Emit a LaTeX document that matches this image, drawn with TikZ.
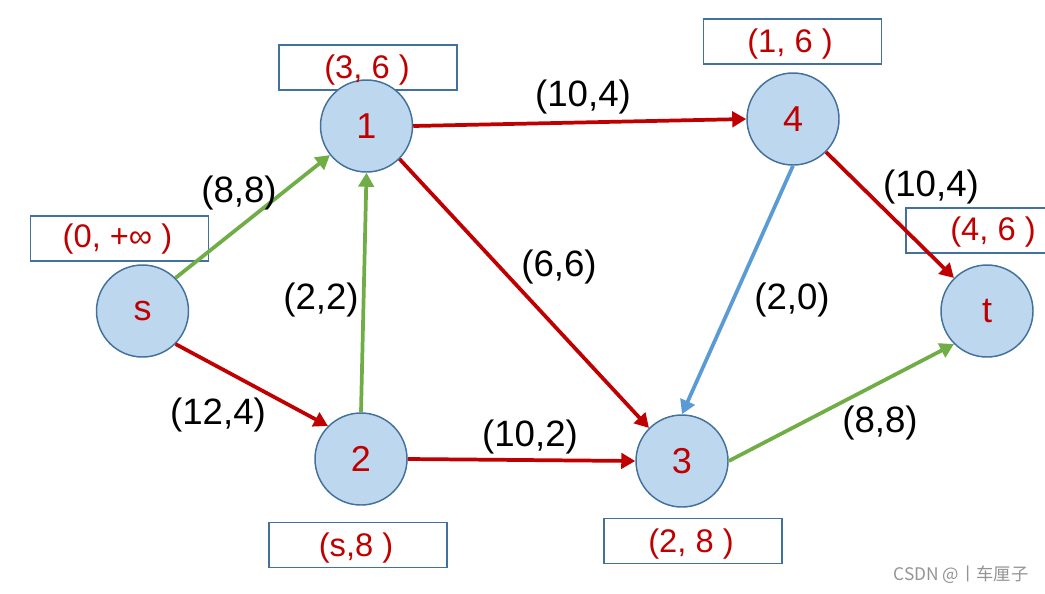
\documentclass[tikz,border=0pt]{standalone}
\usepackage{fontspec}
\setmainfont{Liberation Sans}
\newfontfamily\cjk{Noto Sans CJK SC}
\usetikzlibrary{arrows.meta}
\definecolor{nred}{HTML}{C00000}
\definecolor{ngreen}{HTML}{70AD47}
\definecolor{nblue}{HTML}{5B9BD5}
\definecolor{nfill}{HTML}{BDD7EE}
\definecolor{nborder}{HTML}{41719C}
\tikzset{
  vert/.style={circle, draw=nborder, fill=nfill, line width=1.1pt, minimum size=69pt, inner sep=0pt,
    text=nred, font=\fontsize{27}{32}\selectfont},
  lbox/.style={draw=nborder, line width=1.3pt, minimum width=133.5pt, minimum height=33.75pt, inner sep=0pt},
  ltext/.style={text=nred, font=\fontsize{24.5}{28}\selectfont, inner sep=0pt},
  elab/.style={text=black, font=\fontsize{27.5}{32}\selectfont, inner sep=0pt},
  edge/.style={line width=2.8pt, -{Triangle[length=10.5pt, width=11.5pt]}},
}
\begin{document}
\begin{tikzpicture}[x=0.75pt, y=-0.75pt]
\useasboundingbox (0,0) rectangle (1045,593);
\clip (0,0) rectangle (1045,593);
% label boxes (frames)
\node[lbox] (bs) at (119.5,238.5) {};
\node[lbox] (b1) at (368,67.5) {};
\node[lbox] (b4) at (792.5,41.5) {};
\node[lbox] (bt) at (995,230.5) {};
\node[lbox] (b2) at (358,545) {};
\node[lbox] (b3) at (693,541) {};
% vertices
\node[vert] (s) at (142.5,311) {s};
\node[vert] (n1) at (366.5,126) {1};
\node[vert] (n4) at (793,119) {4};
\node[vert] (t) at (987,311) {t};
\node[vert] (n2) at (361,459) {2};
\node[vert] (n3) at (682,461) {3};
% box texts
\node[ltext] at (117.5,239) {(0, +∞ )};
\node[ltext] at (367,70) {(3, 6 )};
\node[ltext] at (790,44) {(1, 6 )};
\node[ltext] at (993,232) {(4, 6 )};
\node[ltext] at (356,548) {(s,8 )};
\node[ltext] at (691,544) {(2, 8 )};
% edges
\draw[edge, ngreen] (s.north east) -- (n1);
\draw[edge, nred] (s.south east) -- (n2.north west);
\draw[edge, ngreen] (n2.north) -- (n1.south);
\draw[edge, nred] (n1.east) -- (n4.west);
\draw[edge, nred] (n1.south east) -- (n3.north west);
\draw[edge, nred] (n2.east) -- (n3.west);
\draw[edge, nblue] (n4.south) -- (n3.north);
\draw[edge, nred] (n4.south east) -- (t.north west);
\draw[edge, ngreen] (n3.east) -- (t.south west);
% edge labels
\node[elab] (l1) at (239,193) {(8,8)};
\node[elab] (l2) at (218,415) {(12,4)};
\node[elab] (l3) at (321,300) {(2,2)};
\node[elab] (l4) at (583,97) {(10,4)};
\node[elab] (l5) at (559,267) {(6,6)};
\node[elab] (l6) at (530,437) {(10,2)};
\node[elab] (l7) at (792,300) {(2,0)};
\node[elab] (l8) at (931,187) {(10,4)};
\node[elab] (l9) at (880,423) {(8,8)};
% watermark
\node[text=black!42, font=\cjk\fontsize{13}{15}\selectfont, inner sep=0pt] (wm) at (961,575) {CSDN @丨车厘子};
\end{tikzpicture}
\end{document}
